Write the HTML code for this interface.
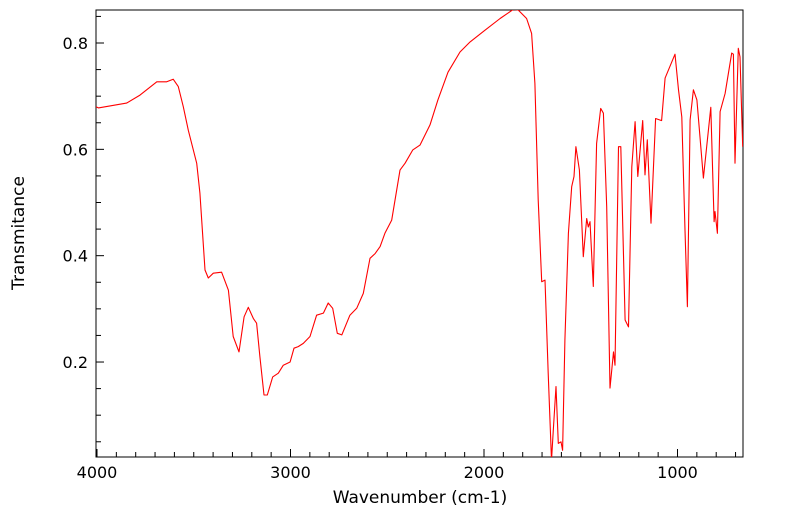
<!DOCTYPE html>
<html><head><meta charset="utf-8"><style>
body{margin:0;background:#fff;}
svg{display:block;font-family:"DejaVu Sans","Liberation Sans",sans-serif;}
</style></head><body>
<svg id="chart" width="799" height="516" viewBox="0 0 799 516" xmlns="http://www.w3.org/2000/svg">
<g id="axes"></g>
<g id="plot"></g>
</svg>
<script>
const wavenumbers=[4005,3993,3847,3778,3691,3640,3606,3580,3554,3528,3485,3468,3442,3425,3399,3356,3321,3296,3266,3240,3218,3192,3175,3158,3137,3120,3092,3063,3037,3002,2982,2960,2934,2899,2865,2830,2805,2782,2758,2735,2693,2658,2624,2589,2563,2537,2512,2477,2434,2408,2368,2331,2279,2238,2186,2124,2072,1995,1917,1849,1823,1780,1754,1737,1720,1702,1685,1668,1651,1642,1628,1616,1602,1594,1582,1564,1547,1535,1525,1507,1487,1469,1461,1452,1435,1418,1397,1383,1366,1349,1331,1323,1305,1293,1271,1253,1236,1219,1205,1180,1168,1156,1137,1113,1082,1064,1013,995,978,961,949,935,918,900,866,828,811,806,794,780,754,720,711,703,686,677,663];
const transmittance=[0.680,0.678,0.687,0.702,0.727,0.727,0.732,0.718,0.680,0.636,0.574,0.518,0.373,0.358,0.367,0.369,0.335,0.248,0.219,0.285,0.303,0.282,0.273,0.210,0.138,0.138,0.172,0.179,0.194,0.200,0.226,0.229,0.235,0.248,0.288,0.292,0.311,0.301,0.254,0.251,0.288,0.301,0.329,0.395,0.404,0.417,0.442,0.467,0.561,0.574,0.599,0.608,0.646,0.693,0.745,0.783,0.802,0.824,0.846,0.863,0.862,0.846,0.818,0.724,0.505,0.351,0.354,0.179,0.015,0.072,0.154,0.047,0.050,0.034,0.241,0.442,0.530,0.549,0.605,0.561,0.398,0.470,0.454,0.464,0.342,0.611,0.677,0.668,0.492,0.151,0.219,0.194,0.605,0.605,0.279,0.266,0.567,0.652,0.549,0.654,0.552,0.618,0.461,0.658,0.654,0.734,0.779,0.712,0.661,0.448,0.304,0.655,0.712,0.693,0.546,0.679,0.464,0.483,0.442,0.671,0.705,0.781,0.779,0.574,0.790,0.774,0.605];
const yTicks=[0.2,0.4,0.6,0.8];
const xTicks=[4000,3000,2000,1000];
const L=96,R=743,T=10,B=457;
const x=w=>97+(4000-w)*0.1935;
const y=v=>43+(0.8-v)*531.7;
const NS='http://www.w3.org/2000/svg';
function mk(tag,attrs,parent){const e=document.createElementNS(NS,tag);for(const k in attrs)e.setAttribute(k,attrs[k]);parent.appendChild(e);return e;}
const ax=document.getElementById('axes'),pl=document.getElementById('plot');
const frame=mk('rect',{x:L,y:T,width:R-L,height:B-T,fill:'none',stroke:'#000','stroke-width':1},ax);


// y ticks
for(let v=0.05;v<0.86;v+=0.05){const yy=y(v);if(yy<T||yy>B)continue;const major=Math.abs(v*10-Math.round(v*10))<1e-6&&Math.round(v*10)%2===0;
const t=mk('line',{x1:L,x2:L+(major?8:5),y1:yy,y2:yy,stroke:'#000'},ax);

}
yTicks.forEach(v=>{const t=mk('text',{x:L-8,y:y(v)+6,'text-anchor':'end','font-size':16},ax);t.textContent=v.toFixed(1);

});
for(let w=700;w<=4000;w+=100){const xx=x(w);if(xx<L||xx>R)continue;const major=w%1000===0;
const t=mk('line',{x1:xx,x2:xx,y1:B,y2:B-(major?8:5),stroke:'#000'},ax);

}
xTicks.forEach(w=>{const t=mk('text',{x:x(w),y:B+21,'text-anchor':'middle','font-size':16},ax);t.textContent=w;

});
const xt=mk('text',{x:420,y:503,'text-anchor':'middle','font-size':17},ax);xt.textContent='Wavenumber (cm-1)';


const yt=mk('text',{x:0,y:0,'text-anchor':'middle','font-size':17,transform:'translate(24,233) rotate(-90)'},ax);yt.textContent='Transmitance';


mk('clipPath',{id:'clip'},pl).appendChild(Object.assign(document.createElementNS(NS,'rect'),{}));
document.querySelector('#clip rect').setAttribute('x',L);document.querySelector('#clip rect').setAttribute('y',T);
document.querySelector('#clip rect').setAttribute('width',R-L);document.querySelector('#clip rect').setAttribute('height',B-T);
const d=wavenumbers.map((w,i)=>(i?'L':'M')+x(w).toFixed(1)+','+y(transmittance[i]).toFixed(1)).join('');
const line=mk('path',{d:d,fill:'none',stroke:'#ff0000','stroke-width':1.1,'clip-path':'url(#clip)','stroke-linejoin':'round'},pl);


</script>
</body></html>
